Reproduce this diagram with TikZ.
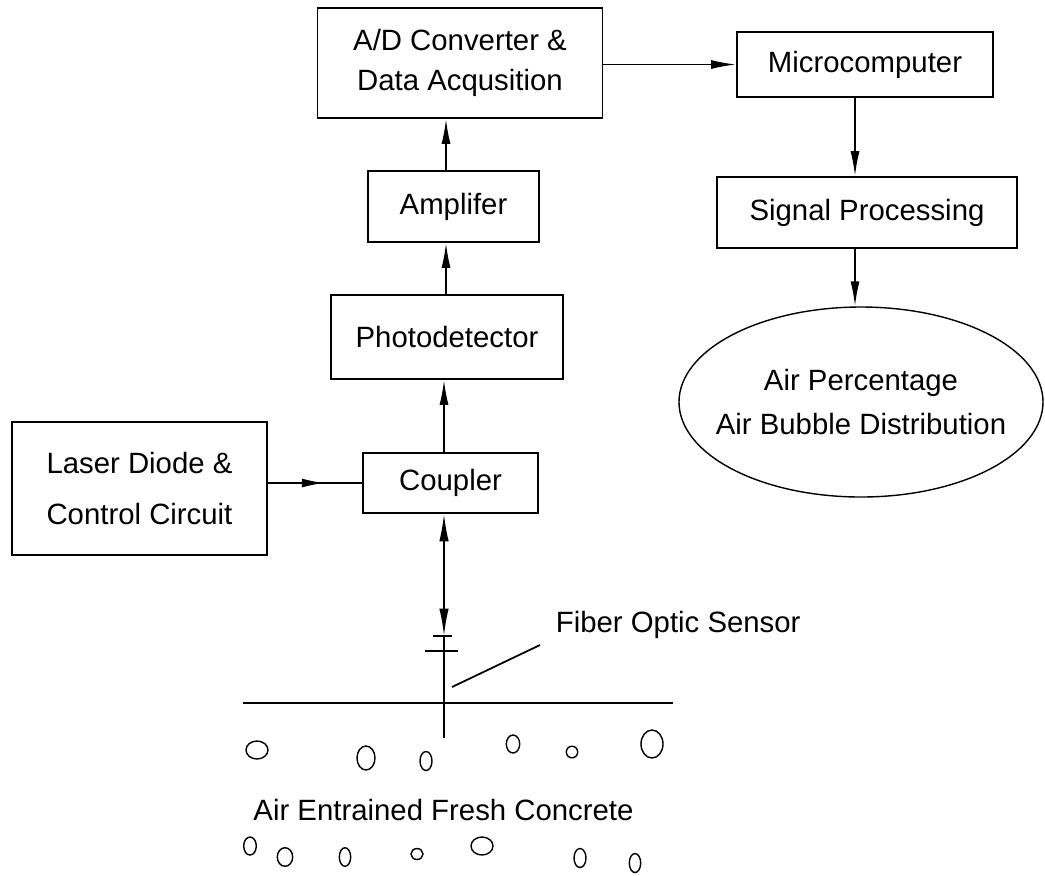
\documentclass[tikz,border=0pt]{standalone}
\usepackage{fontspec}
\setmainfont{Liberation Sans}
\usetikzlibrary{arrows.meta,shapes.geometric,decorations.markings}
\tikzset{
  box/.style={rectangle, draw, line width=1pt, inner sep=0pt, align=center},
  tip/.style={-{Latex[length=5mm,width=1.8mm]}},
  twotip/.style={{Latex[length=5.5mm,width=1.9mm]}-{Latex[length=5.5mm,width=1.9mm]}},
  midtip/.style={postaction={decorate}, decoration={markings,
    mark=at position 0.6 with {\arrow{Latex[length=4.5mm,width=1.8mm]}}}},
  bubble/.style={line width=0.8pt}
}
\begin{document}
\begin{tikzpicture}[x=0.2mm, y=-0.2mm, line width=1pt, font=\fontsize{16.7}{22.8}\selectfont]
  \useasboundingbox (0,0) rectangle (1045,875);
  % Nodes
  \node (adc) [box, minimum width=5.7cm, minimum height=2.2cm] at (460,63) {A/D Converter \&\\Data Acqusition};
  \node (micro) [box, minimum width=5.12cm, minimum height=1.3cm] at (865,64.5) {Microcomputer};
  \node (sig) [box, minimum width=6cm, minimum height=1.42cm] at (867,212.5) {Signal Processing};
  \node (result) [ellipse, draw, line width=0.8pt, inner xsep=-0.5cm, inner ysep=0pt, align=center,
    minimum width=7.28cm, minimum height=3.8cm] at (861,402) {Air Percentage\\[2pt]Air Bubble Distribution};
  \node (amp) [box, minimum width=3.42cm, minimum height=1.42cm] at (453.5,206.5) {Amplifer};
  \node (photo) [box, minimum width=4.64cm, minimum height=1.68cm] at (447,337) {Photodetector};
  \node (laser) [box, minimum width=5.1cm, minimum height=2.66cm] at (139.5,488.5) {Laser Diode \&\\[6pt]Control Circuit};
  \node (coupler) [box, minimum width=3.5cm, minimum height=1.2cm] at (450.5,483) {Coupler};
  \node (sensorlbl) [anchor=west, inner sep=0pt] at (555,625) {Fiber Optic Sensor};
  \node (concrete) at (443.5,810) {Air Entrained Fresh Concrete};
  \coordinate (spine) at (446,0);
  \coordinate (rcol) at (855,0);
  \coordinate (fiber) at (444,636);
  \coordinate (probe) at (452,687);
  % Arrow
  \draw[tip] (adc.east |- micro) -- (micro.west);
  \draw[tip] (micro.south -| rcol) -- (sig.north -| rcol);
  \draw[tip] (sig.south -| rcol) -- (result.north -| rcol);
  \draw[tip] (amp.north -| spine) -- (adc.south -| spine);
  \draw[tip] (photo.north -| spine) -- (amp.south -| spine);
  \draw[tip] (coupler.north -| fiber) -- (photo.south -| fiber);
  \draw[midtip] (laser.east |- coupler) -- (coupler.west);
  \draw[twotip] (coupler.south -| fiber) -- (fiber);
  % Sensor
  \draw (fiber) ++(-11,0) -- ++(19,0);
  \draw (fiber) ++(-19,15) -- ++(33,0);
  \draw (fiber) -- ++(0,102);
  \draw (243,703) -- (673,703);
  \draw (probe) -- ([shift={(-15,20)}]sensorlbl.west);
  % Bubbles
  \foreach \x/\y/\a/\b in {257/750/11/9, 366/758/9/12, 426/761/6/9.5, 513/744/6.7/9,
      572/752/5.7/5.8, 652/744/11/14, 250/846/6.3/9, 285/857/7.7/9.3, 345/857/5.7/9.3,
      417/854/6/5.5, 482/846/11/9, 580/858/6/9.5, 635/863/5.7/9.5}
    \draw[bubble] (\x,\y) ellipse [x radius=\a, y radius=\b];
\end{tikzpicture}
\end{document}
